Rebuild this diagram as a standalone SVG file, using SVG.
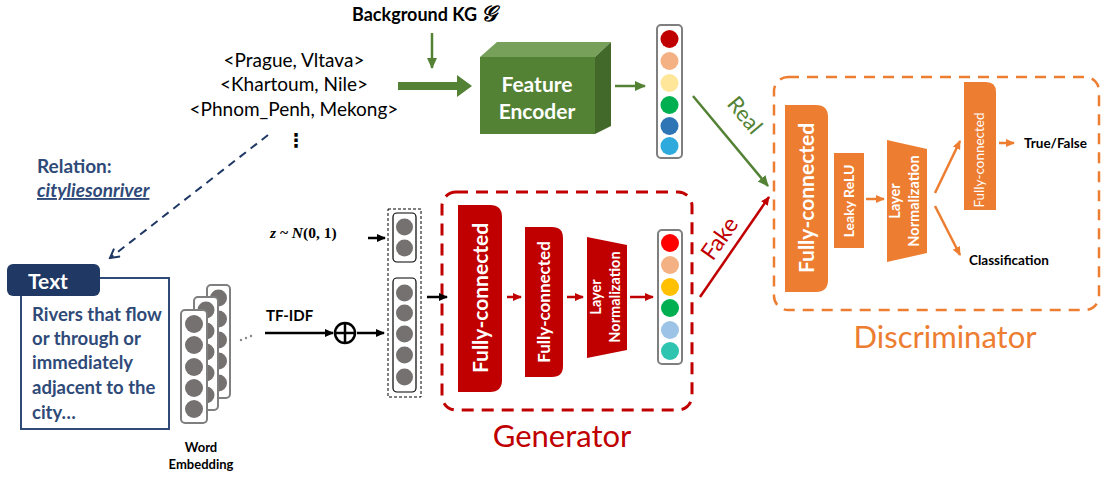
<svg xmlns="http://www.w3.org/2000/svg" width="1101" height="479" viewBox="0 0 1101 479">
<defs>
<style>
.t{font-family:Lato,"Noto Sans","DejaVu Sans",sans-serif}
.b{font-weight:bold}
.wt{fill:#fff}
.vec{fill:#fff;stroke:#7f7f7f;stroke-width:2}
.gc{fill:#767171}
.red{fill:#c00000}
.org{fill:#ed7d31}
</style>
<marker id="mk" markerWidth="10" markerHeight="10" refX="8" refY="5" orient="auto" markerUnits="userSpaceOnUse"><path d="M0,1 L9,5 L0,9 Z" fill="#000"/></marker>
<marker id="mr" markerWidth="10" markerHeight="10" refX="8" refY="5" orient="auto" markerUnits="userSpaceOnUse"><path d="M0,1 L9,5 L0,9 Z" fill="#c00000"/></marker>
<marker id="mg" markerWidth="12" markerHeight="12" refX="10" refY="6" orient="auto" markerUnits="userSpaceOnUse"><path d="M0,1 L11,6 L0,11 Z" fill="#548235"/></marker>
<marker id="mo" markerWidth="10" markerHeight="10" refX="8" refY="5" orient="auto" markerUnits="userSpaceOnUse"><path d="M0,1 L9,5 L0,9 Z" fill="#ed7d31"/></marker>
<marker id="mn" markerWidth="12" markerHeight="12" refX="10" refY="6" orient="auto" markerUnits="userSpaceOnUse"><path d="M1,1 L10,6 L1,11" fill="none" stroke="#1f3864" stroke-width="2"/></marker>
</defs>
<rect width="1101" height="479" fill="#fff"/>

<g id="kg-title">
<text x="352" y="21" class="t b" font-size="18" fill="#000">Background KG <tspan font-family="'Liberation Serif',serif" font-style="italic" font-size="22">𝒢</tspan></text>
</g>

<g id="triples" class="t" font-size="19" fill="#000" text-anchor="middle">
<text x="294" y="67">&lt;Prague, Vltava&gt;</text>
<text x="294" y="91">&lt;Khartoum, Nile&gt;</text>
<text x="294" y="116">&lt;Phnom_Penh, Mekong&gt;</text>
<text x="296" y="147" font-weight="bold">⋮</text>
</g>

<g id="feature-encoder">
<polygon points="480,57 497,42 611,42 595,57" fill="#77a05a"/>
<polygon points="595,57 611,42 611,126 595,134" fill="#43692a"/>
<rect x="480" y="57" width="115" height="77" fill="#548235"/>
<text x="537" y="92" class="t b wt" font-size="21" text-anchor="middle">Feature</text>
<text x="537" y="119" class="t b wt" font-size="21" text-anchor="middle">Encoder</text>
</g>

<g id="real-vector">
<rect x="657" y="25" width="25" height="133" rx="4" class="vec"/>
<circle cx="669.5" cy="39" r="9" fill="#c00000"/>
<circle cx="669.5" cy="61" r="9" fill="#f4b183"/>
<circle cx="669.5" cy="83" r="9" fill="#ffe699"/>
<circle cx="669.5" cy="105" r="9" fill="#00b050"/>
<circle cx="669.5" cy="126" r="9" fill="#2e75b6"/>
<circle cx="669.5" cy="146" r="9" fill="#2eaadc"/>
</g>

<g id="relation">
<text x="37" y="173" class="t b" font-size="19" fill="#2f4a78">Relation:</text>
<text x="37" y="197" class="t b" font-size="19" font-style="italic" fill="#2f4a78" text-decoration="underline">cityliesonriver</text>
</g>

<g id="text-box">
<rect x="21" y="278" width="148" height="151" fill="#fff" stroke="#2f4a78" stroke-width="2"/>
<rect x="7" y="264" width="93" height="32" rx="6" fill="#203864"/>
<text x="28" y="289" class="t b wt" font-size="21">Text</text>
<g class="t b" font-size="18.5" fill="#2f4a78">
<text x="32" y="321">Rivers that flow</text>
<text x="32" y="345">or through or</text>
<text x="32" y="369">immediately</text>
<text x="32" y="394">adjacent to the</text>
<text x="32" y="419">city…</text>
</g>
</g>

<g id="word-embedding">
<rect x="207" y="285" width="23" height="113" rx="4" class="vec"/>
<g class="gc"><circle cx="218.5" cy="298" r="8.5"/><circle cx="218.5" cy="319" r="8.5"/><circle cx="218.5" cy="340" r="8.5"/><circle cx="218.5" cy="361" r="8.5"/><circle cx="218.5" cy="383" r="8.5"/></g>
<rect x="194" y="297" width="24" height="113" rx="4" class="vec"/>
<g class="gc"><circle cx="206" cy="310" r="8.5"/><circle cx="206" cy="331" r="8.5"/><circle cx="206" cy="352" r="8.5"/><circle cx="206" cy="373" r="8.5"/><circle cx="206" cy="395" r="8.5"/></g>
<rect x="181" y="310" width="26" height="113" rx="4" class="vec"/>
<g class="gc"><circle cx="194" cy="324" r="9"/><circle cx="194" cy="345" r="9"/><circle cx="194" cy="367" r="9"/><circle cx="194" cy="388" r="9"/><circle cx="194" cy="409" r="9"/></g>
<text x="201" y="452" class="t b" font-size="13" text-anchor="middle">Word</text>
<text x="201" y="469" class="t b" font-size="13" text-anchor="middle">Embedding</text>
<g fill="#888"><circle cx="241" cy="340" r="1.2"/><circle cx="246" cy="338" r="1.2"/><circle cx="251" cy="336" r="1.2"/></g>
</g>

<g id="noise">
<text x="270" y="238" font-family="'Liberation Serif',serif" font-size="15.5" font-weight="bold" fill="#000"><tspan font-style="italic">z</tspan> ~ <tspan font-style="italic">N</tspan>(0, 1)</text>
</g>

<g id="tfidf">
<text x="266" y="321" class="t b" font-size="15">TF-IDF</text>
<circle cx="345" cy="333" r="10" fill="none" stroke="#000" stroke-width="2.5"/>
<line x1="335" y1="333" x2="355" y2="333" stroke="#000" stroke-width="2.5"/>
<line x1="345" y1="323" x2="345" y2="343" stroke="#000" stroke-width="2.5"/>
</g>

<g id="input-vector">
<rect x="388" y="209" width="33" height="188" fill="none" stroke="#000" stroke-width="1" stroke-dasharray="3,2"/>
<rect x="393" y="213" width="23" height="49" rx="4" fill="#fff" stroke="#000" stroke-width="1.2"/>
<rect x="393" y="278" width="23" height="114" rx="4" fill="#fff" stroke="#000" stroke-width="1.2"/>
<g class="gc"><circle cx="404.5" cy="227" r="8.5"/><circle cx="404.5" cy="248" r="8.5"/>
<circle cx="404.5" cy="293" r="8.5"/><circle cx="404.5" cy="313" r="8.5"/><circle cx="404.5" cy="334" r="8.5"/><circle cx="404.5" cy="355" r="8.5"/><circle cx="404.5" cy="377" r="8.5"/></g>
</g>

<g id="generator">
<rect x="442" y="192" width="250" height="218" rx="14" fill="none" stroke="#c00000" stroke-width="3" stroke-dasharray="12,8"/>
<path d="M458,205 H490 Q502,205 502,217 V380 Q502,392 490,392 H458 Z" class="red"/>
<text transform="translate(488,298) rotate(-90)" class="t b wt" font-size="21" text-anchor="middle">Fully-connected</text>
<path d="M525,227 H552 Q563,227 563,238 V366 Q563,377 552,377 H525 Z" class="red"/>
<text transform="translate(550,302) rotate(-90)" class="t b wt" font-size="17" text-anchor="middle">Fully-connected</text>
<polygon points="587,237 627,245 627,350 587,358" class="red"/>
<text transform="translate(601,297) rotate(-90)" class="t b wt" font-size="14.5" text-anchor="middle">Layer</text>
<text transform="translate(620,297) rotate(-90)" class="t b wt" font-size="14.5" text-anchor="middle">Normalization</text>
<rect x="658" y="230" width="24" height="134" rx="4" class="vec"/>
<circle cx="670" cy="243" r="9" fill="#ff0000"/>
<circle cx="670" cy="265" r="9" fill="#f4b183"/>
<circle cx="670" cy="287" r="9" fill="#ffc000"/>
<circle cx="670" cy="308" r="9" fill="#00b050"/>
<circle cx="670" cy="330" r="9" fill="#9dc3e6"/>
<circle cx="670" cy="351" r="9" fill="#2ec4b0"/>
<text x="562" y="447" class="t" font-size="31" fill="#c00000" text-anchor="middle">Generator</text>
</g>

<g id="discriminator">
<rect x="774" y="77" width="325" height="233" rx="14" fill="none" stroke="#ed7d31" stroke-width="2.5" stroke-dasharray="11,8"/>
<path d="M785,105 H816 Q828,105 828,117 V280 Q828,292 816,292 H785 Z" class="org"/>
<text transform="translate(814,198) rotate(-90)" class="t b wt" font-size="21" text-anchor="middle">Fully-connected</text>
<rect x="834" y="153" width="30" height="95" class="org"/>
<text transform="translate(854,201) rotate(-90)" class="t b wt" font-size="14" text-anchor="middle">Leaky ReLU</text>
<polygon points="887,140 927,149 927,253 887,262" class="org"/>
<text transform="translate(900,201) rotate(-90)" class="t b wt" font-size="14.5" text-anchor="middle">Layer</text>
<text transform="translate(919,201) rotate(-90)" class="t b wt" font-size="14.5" text-anchor="middle">Normalization</text>
<path d="M964,82 H986 Q996,82 996,92 V210 H964 Z" class="org"/>
<text transform="translate(984,160) rotate(-90)" class="t wt" font-size="13.5" text-anchor="middle">Fully-connected</text>
<text x="1024" y="148" class="t b" font-size="13.5">True/False</text>
<text x="969" y="265" class="t b" font-size="13.5">Classification</text>
<text x="945" y="348" class="t" font-size="31" fill="#ed7d31" text-anchor="middle">Discriminator</text>
</g>

<g id="connectors">
<line x1="432" y1="33" x2="432" y2="68" stroke="#548235" stroke-width="2.5" marker-end="url(#mg)"/>
<polygon points="398,82 457,82 457,75 472,86 457,97 457,90 398,90" fill="#548235"/>
<line x1="615" y1="86" x2="645" y2="86" stroke="#548235" stroke-width="2.5" marker-end="url(#mg)"/>
<line x1="693" y1="96" x2="768" y2="186" stroke="#548235" stroke-width="2.5" marker-end="url(#mg)"/>
<text transform="translate(739,120) rotate(50)" class="t" font-size="22" fill="#548235" text-anchor="middle">Real</text>
<line x1="700" y1="297" x2="769" y2="197" stroke="#c00000" stroke-width="2.5" marker-end="url(#mr)"/>
<text transform="translate(726,243) rotate(-55)" class="t" font-size="23" fill="#c00000" text-anchor="middle">Fake</text>
<line x1="268" y1="135" x2="110" y2="258" stroke="#1f3864" stroke-width="2" stroke-dasharray="8,6" marker-end="url(#mn)"/>
<line x1="368" y1="238" x2="385" y2="238" stroke="#000" stroke-width="2.5" marker-end="url(#mk)"/>
<line x1="265" y1="333" x2="333" y2="333" stroke="#000" stroke-width="2.5" marker-end="url(#mk)"/>
<line x1="357" y1="333" x2="384" y2="333" stroke="#000" stroke-width="2.5" marker-end="url(#mk)"/>
<line x1="427" y1="297" x2="447" y2="297" stroke="#000" stroke-width="2.5" marker-end="url(#mk)"/>
<line x1="507" y1="297" x2="521" y2="297" stroke="#c00000" stroke-width="2.5" marker-end="url(#mr)"/>
<line x1="567" y1="297" x2="583" y2="297" stroke="#c00000" stroke-width="2.5" marker-end="url(#mr)"/>
<line x1="630" y1="297" x2="653" y2="297" stroke="#c00000" stroke-width="2.5" marker-end="url(#mr)"/>
<line x1="866" y1="199" x2="884" y2="199" stroke="#ed7d31" stroke-width="2.5" marker-end="url(#mo)"/>
<line x1="935" y1="193" x2="960" y2="141" stroke="#ed7d31" stroke-width="2.5" marker-end="url(#mo)"/>
<line x1="935" y1="206" x2="960" y2="255" stroke="#ed7d31" stroke-width="2.5" marker-end="url(#mo)"/>
<line x1="999" y1="143" x2="1014" y2="143" stroke="#ed7d31" stroke-width="2.5" marker-end="url(#mo)"/>
</g>
</svg>
